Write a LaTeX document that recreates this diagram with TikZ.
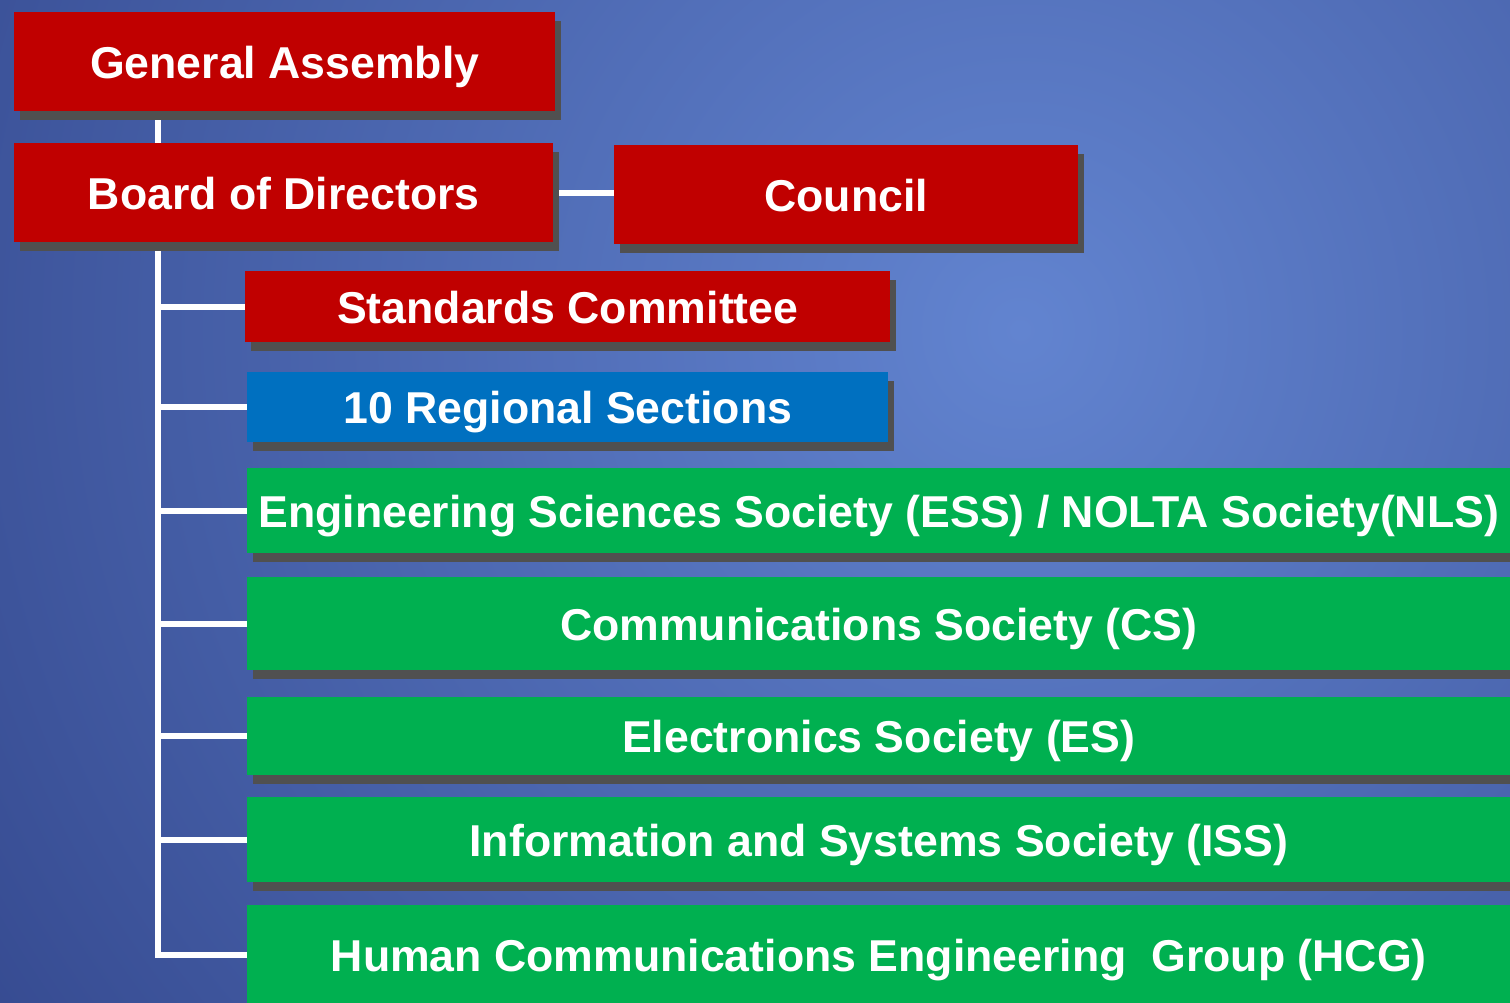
\documentclass[tikz,border=0pt]{standalone}
\usepackage{fontspec}
\setmainfont{Liberation Sans}
\usetikzlibrary{positioning,shadows}
\definecolor{boxred}{RGB}{192,0,0}
\definecolor{boxblue}{RGB}{0,112,192}
\definecolor{boxgreen}{RGB}{0,176,80}
\definecolor{shadowgray}{RGB}{80,80,80}
\definecolor{bgdark}{RGB}{38,54,122}
\definecolor{bglight}{RGB}{98,132,208}
\pgfdeclarelayer{back}
\pgfdeclarelayer{wires}
\pgfsetlayers{back,wires,main}

\begin{document}
\begin{tikzpicture}[x=0.02cm, y=-0.02cm,
    orgbox/.style={anchor=north west, inner sep=0pt, text=white,
        text depth=0pt,
        font=\fontsize{25.4}{30}\selectfont\bfseries,
        general shadow={fill=shadowgray, shadow xshift=0.12cm, shadow yshift=-0.18cm}},
    wire/.style={draw=white, line width=0.12cm}]
    \useasboundingbox (0,0) rectangle (1510,1003);
    % Background
    \begin{pgfonlayer}{back}
        \fill[bgdark] (0,0) rectangle (1510,1003);
        \begin{scope}
            \clip (0,0) rectangle (1510,1003);
            \shade[inner color=bglight, outer color=bgdark] (1020,330) circle (34cm);
        \end{scope}
    \end{pgfonlayer}

    % Top level
    \node [orgbox, fill=boxred,
        minimum width=10.82cm,
        minimum height=1.98cm
    ]  (assembly) at (14,12) {General Assembly};
    \node [orgbox, fill=boxred,
        minimum width=10.78cm,
        minimum height=1.98cm
    ]  (board) at (14,143) {Board of Directors};
    \node [orgbox, fill=boxred,
        minimum width=9.28cm,
        minimum height=1.98cm
    ]  (council) at (614,145) {Council};

    % Committees
    \node [orgbox, fill=boxred,
        minimum width=12.9cm,
        minimum height=1.42cm
    ]  (standards) at (245,271) {Standards Committee};
    \node [orgbox, fill=boxblue,
        minimum width=12.82cm,
        minimum height=1.40cm
    ]  (sections) at (247,372) {10 Regional Sections};

    % Societies
    \node [orgbox, fill=boxgreen,
        minimum width=25.26cm,
        minimum height=1.70cm
    ]  (ess) at (247,468) {Engineering Sciences Society (ESS) / NOLTA Society(NLS)};
    \node [orgbox, fill=boxgreen,
        minimum width=25.26cm,
        minimum height=1.86cm
    ]  (cs) at (247,577) {Communications Society (CS)};
    \node [orgbox, fill=boxgreen,
        minimum width=25.26cm,
        minimum height=1.56cm
    ]  (es) at (247,697) {Electronics Society (ES)};
    \node [orgbox, fill=boxgreen,
        minimum width=25.26cm,
        minimum height=1.70cm
    ]  (iss) at (247,797) {Information and Systems Society (ISS)};
    \node [orgbox, fill=boxgreen,
        minimum width=25.26cm,
        minimum height=2.00cm
    ]  (hcg) at (247,905) {Human Communications Engineering~~Group (HCG)};

    % Connectors
    \coordinate (spine) at (158,250);
    \begin{pgfonlayer}{wires}
        \draw[wire] (assembly.south -| spine) -- (board.north -| spine);
        \draw[wire] (board.east) -- (council.west |- board.east);
        \draw[wire] (spine |- board.south) |- (hcg.west);
        \foreach \n in {standards,sections,ess,cs,es,iss}
            \draw[wire] (spine |- \n.west) -- (\n.west);
    \end{pgfonlayer}
\end{tikzpicture}
\end{document}
